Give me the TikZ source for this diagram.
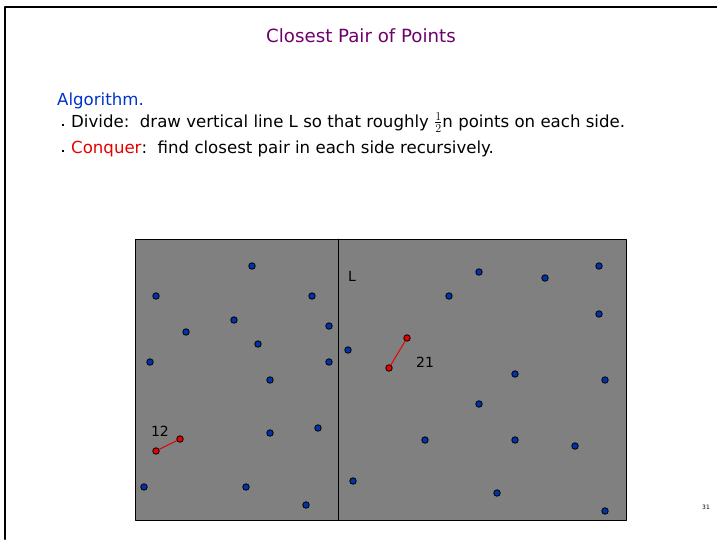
\documentclass[tikz,border=0pt]{standalone}
\usepackage{fontspec}
\setmainfont{DejaVu Sans}
\definecolor{titlepurple}{RGB}{110,0,110}
\definecolor{algblue}{RGB}{0,51,204}
\definecolor{ptblue}{RGB}{0,51,170}
\definecolor{ptred}{RGB}{230,0,0}
\tikzset{
  pt/.style={circle, draw=black, fill=ptblue, inner sep=0pt, minimum size=6.5pt, line width=0.8pt},
  redpt/.style={pt, fill=ptred},
  bodytext/.style={anchor=base west, inner sep=0pt, font=\fontsize{16.6}{19}\selectfont},
  bulletmark/.style={fill=black, inner sep=0pt, minimum size=2.6pt},
}
\begin{document}
\begin{tikzpicture}[x=1pt, y=-1pt, line cap=round, line join=round]
  \useasboundingbox (0,0) rectangle (717,539);
  % slide frame
  \draw[line width=2pt] (5,539) -- (5,7) -- (717,7);
  \node[text=titlepurple, font=\fontsize{18.2}{21}\selectfont] (title) at (361,36) {Closest Pair of Points};
  \node[bodytext, text=algblue] (alg) at (57,105) {Algorithm.};
  \node[bulletmark] (b1) at (63,125) {};
  \node[bodytext] (line1) at (71,127) {Divide:\ \ draw vertical line L so that roughly $\frac{1}{2}$n points on each side.};
  \node[bulletmark] (b2) at (63,151) {};
  \node[bodytext] (line2) at (71,153) {\textcolor{ptred}{Conquer}:\ \ find closest pair in each side recursively.};
  % the plane, split by L
  \draw[fill=gray, line width=0.8pt] (135,239) rectangle (626,520);
  \draw[line width=0.8pt] (338,239) -- (338,520);
  \node[font=\fontsize{14}{16}\selectfont] (lname) at (352,276) {L};
  % points
  \foreach \px/\py [count=\i] in {252/266, 156/296, 312/296, 234/320, 186/332, 329/326,
      258/344, 150/362, 329/362, 270/380, 270/433, 318/428, 144/487, 246/487, 306/505,
      348/350, 449/296, 479/272, 545/278, 599/266, 599/314, 515/374, 605/380, 479/404,
      425/440, 515/440, 575/446, 353/481, 497/493, 605/511}
    \node[pt] (q\i) at (\px,\py) {};
  % closest pair on each side
  \node[redpt] (l1) at (180,439) {};
  \node[redpt] (l2) at (156,451) {};
  \node[redpt] (r1) at (407,338) {};
  \node[redpt] (r2) at (389,368) {};
  \draw[ptred, line width=1pt] (l1) -- (l2);
  \draw[ptred, line width=1pt] (r1) -- (r2);
  \node[font=\fontsize{14}{16}\selectfont] (dleft) at (160,431) {12};
  \node[font=\fontsize{14}{16}\selectfont] (dright) at (425,362) {21};
  \node[font=\fontsize{6}{7}\selectfont] (page) at (706,507) {31};
\end{tikzpicture}
\end{document}
